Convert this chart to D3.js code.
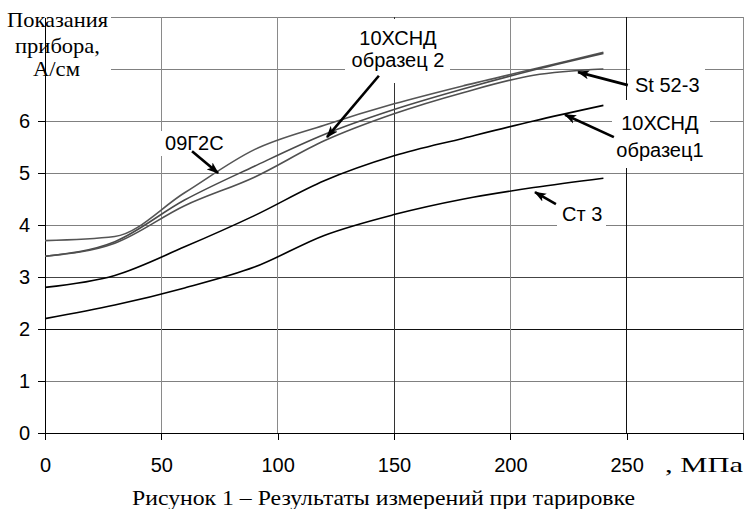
<!DOCTYPE html>
<html>
<head>
<meta charset="utf-8">
<script src="https://cdn.jsdelivr.net/npm/d3@7"></script>
<style>
  body { margin: 0; background: #fff; }
  svg { display: block; }
</style>
</head>
<body>
<script>
// data (stress, MPa -> reading, A/cm)
const stress = [0, 30, 60, 90, 120, 150, 180, 210, 240];
const g09g2s = [3.7, 3.78, 4.62, 5.45, 5.92, 6.33, 6.68, 7.0, 7.32];
const hsnd2 = [3.4, 3.68, 4.48, 5.13, 5.74, 6.22, 6.62, 6.98, 7.3];
const st52 = [3.4, 3.65, 4.37, 4.92, 5.62, 6.14, 6.55, 6.88, 7.0];
const hsnd1 = [2.8, 3.03, 3.58, 4.18, 4.85, 5.33, 5.67, 6.0, 6.3];
const st3 = [2.2, 2.46, 2.79, 3.19, 3.8, 4.2, 4.5, 4.72, 4.9];

const xTicks = [0, 50, 100, 150, 200, 250, 300];
const xTickLabels = ["0", "50", "100", "150", "200", "250", ""];
const yTicks = [0, 1, 2, 3, 4, 5, 6, 7, 8];
const yTickLabels = ["0", "1", "2", "3", "4", "5", "6", "", ""];

// chart
const w = 753;
const h = 509;
const padL = 45, padR = 743, padT = 17, padB = 433;

const xScale = d3.scaleLinear().domain([0, 300]).range([padL, padR]);
const yScale = d3.scaleLinear().domain([0, 8]).range([padB, padT]);

const svg = d3
  .select("body")
  .append("svg")
  .attr("width", w)
  .attr("height", h)
  .style("background", "#fff");

const sans = "'Liberation Sans', Arial, sans-serif";
const serif = "'Liberation Serif', 'Times New Roman', serif";

/* ###### grid ###### */
const darkH = { 2: "#111", 3: "#444" };
const darkV = { 150: "#333", 250: "#111" };

svg
  .append("g")
  .selectAll("line")
  .data(yTicks.slice(1))
  .enter()
  .append("line")
  .attr("x1", padL)
  .attr("x2", padR)
  .attr("y1", (d) => yScale(d))
  .attr("y2", (d) => yScale(d))
  .attr("stroke", (d) => darkH[d] || "#808080")
  .attr("shape-rendering", "crispEdges");

svg
  .append("g")
  .selectAll("line")
  .data(xTicks.slice(1))
  .enter()
  .append("line")
  .attr("x1", (d) => xScale(d))
  .attr("x2", (d) => xScale(d))
  .attr("y1", padT)
  .attr("y2", padB)
  .attr("stroke", (d) => darkV[d] || "#8a8a8a")
  .attr("shape-rendering", "crispEdges");

/* ###### white boxes behind labels ###### */
const boxes = [
  [0, 0, 111, 83],
  [160, 131, 68, 25],
  [345, 19, 105, 64],
  [630, 66, 75, 32],
  [612, 100, 98, 68],
  [557, 200, 49, 30],
];
svg
  .append("g")
  .selectAll("rect")
  .data(boxes)
  .enter()
  .append("rect")
  .attr("x", (d) => d[0])
  .attr("y", (d) => d[1])
  .attr("width", (d) => d[2])
  .attr("height", (d) => d[3])
  .attr("fill", "#fff");

/* ###### axes ###### */
const xAxis = d3
  .axisBottom(xScale)
  .tickValues(xTicks)
  .tickSize(7)
  .tickSizeOuter(0)
  .tickPadding(18)
  .tickFormat((d, i) => xTickLabels[i]);

const yAxis = d3
  .axisLeft(yScale)
  .tickValues(yTicks.slice(0, 7))
  .tickSize(7)
  .tickSizeOuter(0)
  .tickPadding(8)
  .tickFormat((d, i) => yTickLabels[i]);

const gx = svg
  .append("g")
  .attr("transform", "translate(0," + padB + ")")
  .call(xAxis);

const gy = svg
  .append("g")
  .attr("transform", "translate(" + padL + ",0)")
  .call(yAxis);

[gx, gy].forEach((g) => {
  g.selectAll("path, line").attr("stroke", "#000").attr("shape-rendering", "crispEdges");
  g.selectAll("text")
    .attr("fill", "#000")
    .style("font-family", sans)
    .style("font-size", "20px");
});
gx.select(".domain").attr("stroke-width", 1.5);

// y axis line continues up to the title
svg
  .append("line")
  .attr("x1", padL)
  .attr("x2", padL)
  .attr("y1", yScale(6))
  .attr("y2", 84)
  .attr("stroke", "#000")
  .attr("shape-rendering", "crispEdges");

/* ###### curves ###### */
const series = [
  { values: g09g2s, color: "#555" },
  { values: hsnd2, color: "#4a4a4a" },
  { values: st52, color: "#505050" },
  { values: hsnd1, color: "#000" },
  { values: st3, color: "#000" },
];

const line = d3
  .line()
  .x((d) => xScale(d[0]))
  .y((d) => yScale(d[1]))
  .curve(d3.curveMonotoneX);

svg
  .append("g")
  .selectAll("path")
  .data(series)
  .enter()
  .append("path")
  .attr("d", (s) => line(stress.map((v, i) => [v, s.values[i]])))
  .attr("fill", "none")
  .attr("stroke", (s) => s.color)
  .attr("stroke-width", 1.6);

/* ###### labels and arrows ###### */
svg
  .append("defs")
  .append("marker")
  .attr("id", "head")
  .attr("viewBox", "0 -5 12 10")
  .attr("refX", 11)
  .attr("refY", 0)
  .attr("markerUnits", "userSpaceOnUse")
  .attr("markerWidth", 12)
  .attr("markerHeight", 10)
  .attr("orient", "auto")
  .append("path")
  .attr("d", "M0,-4.5L12,0L0,4.5L3,0Z")
  .attr("fill", "#000");

// arrows in data units: [x1, y1, x2, y2]
const arrows = [
  [63.2, 5.42, 74.4, 5.0],
  [143.5, 6.87, 121.2, 5.69],
  [250.5, 6.69, 229.1, 6.94],
  [244.5, 5.69, 223.5, 6.12],
  [219.6, 4.4, 210.6, 4.63],
];
svg
  .append("g")
  .selectAll("line")
  .data(arrows)
  .enter()
  .append("line")
  .attr("x1", (d) => xScale(d[0]))
  .attr("y1", (d) => yScale(d[1]))
  .attr("x2", (d) => xScale(d[2]))
  .attr("y2", (d) => yScale(d[3]))
  .attr("stroke", "#000")
  .attr("stroke-width", 2.6)
  .attr("marker-end", "url(#head)");

// labels in data units: [text, x, y, anchor]
const labels = [
  ["09Г2С", 51.6, 5.44, "start"],
  ["10ХСНД", 151.7, 7.46, "middle"],
  ["образец 2", 151.7, 7.04, "middle"],
  ["St 52-3", 253.6, 6.56, "start"],
  ["10ХСНД", 264.3, 5.83, "middle"],
  ["образец1", 264.3, 5.31, "middle"],
  ["Ст 3", 222.2, 4.08, "start"],
];
svg
  .append("g")
  .selectAll("text")
  .data(labels)
  .enter()
  .append("text")
  .attr("x", (d) => xScale(d[1]))
  .attr("y", (d) => yScale(d[2]))
  .attr("text-anchor", (d) => d[3])
  .style("font-family", sans)
  .style("font-size", "20px")
  .attr("fill", "#000")
  .text((d) => d[0]);

/* ###### titles ###### */
const titleLines = [
  ["Показания", 57.5, 27, 101],
  ["прибора,", 57.5, 53, 85],
  ["А/см", 56.5, 76, 47],
];
svg
  .append("g")
  .selectAll("text")
  .data(titleLines)
  .enter()
  .append("text")
  .attr("x", (d) => d[1] - d[3] / 2)
  .attr("y", (d) => d[2])
  .attr("textLength", (d) => d[3])
  .attr("lengthAdjust", "spacingAndGlyphs")
  .style("font-family", serif)
  .style("font-size", "21px")
  .attr("fill", "#000")
  .text((d) => d[0]);

svg
  .append("text")
  .attr("x", 665)
  .attr("y", 472)
  .attr("textLength", 78)
  .attr("lengthAdjust", "spacingAndGlyphs")
  .style("font-family", serif)
  .style("font-size", "21px")
  .text(", МПа");

svg
  .append("text")
  .attr("x", 132)
  .attr("y", 505)
  .attr("textLength", 503)
  .attr("lengthAdjust", "spacingAndGlyphs")
  .style("font-family", serif)
  .style("font-size", "22px")
  .text("Рисунок 1 – Результаты измерений при тарировке");
</script>
</body>
</html>
